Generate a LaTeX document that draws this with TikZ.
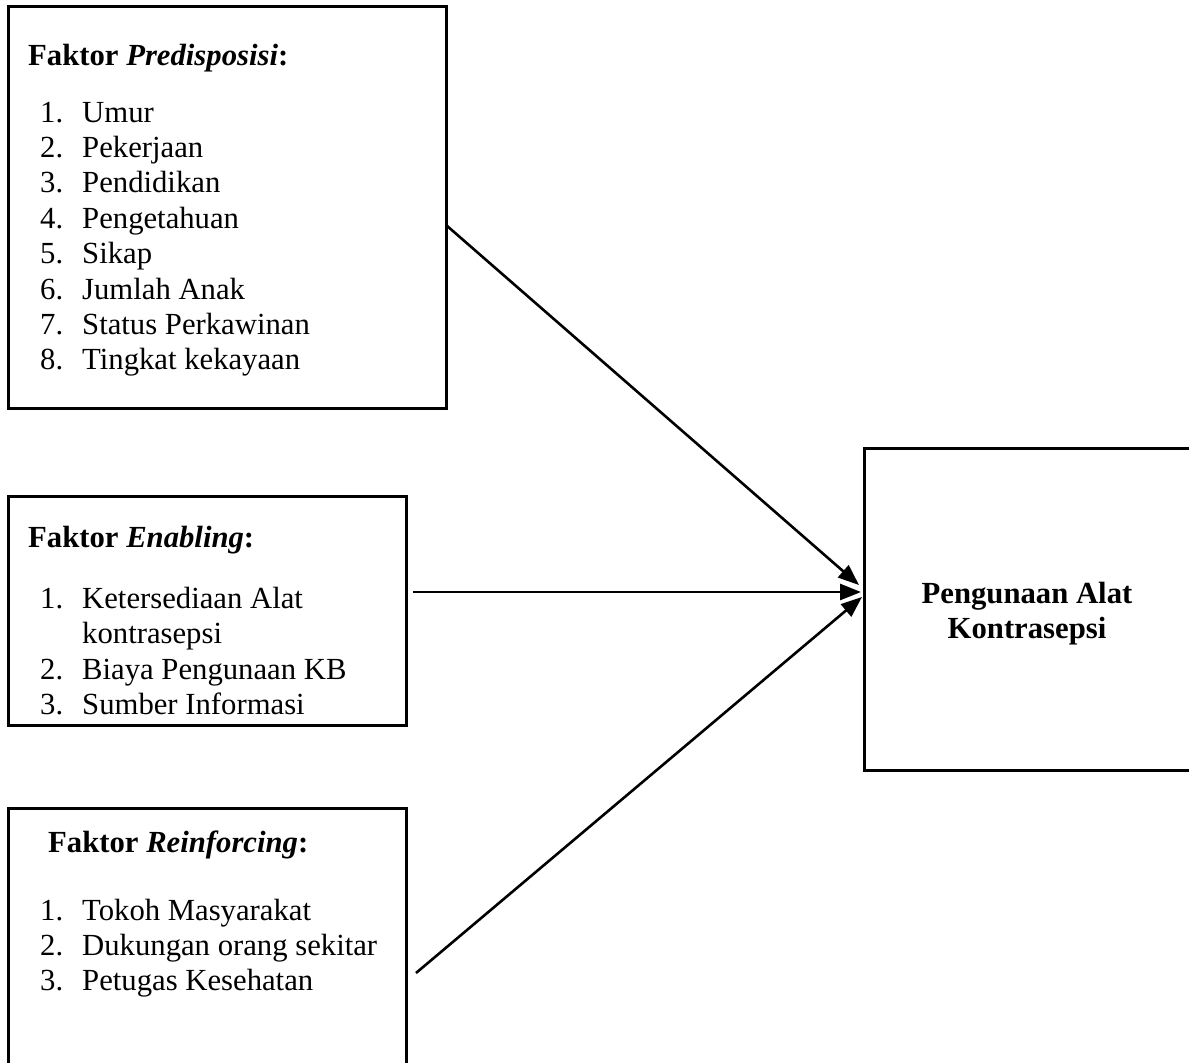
\documentclass[tikz,border=0pt]{standalone}
\usepackage{fontspec}
\setmainfont{Liberation Serif}
\usetikzlibrary{arrows.meta}
\begin{document}
\begin{tikzpicture}[x=1pt,y=-1pt,
  box/.style={draw,line width=3pt,inner sep=0pt,outer sep=0pt},
  txt/.style={anchor=base west,inner sep=0pt,font=\fontsize{30.7}{35}\selectfont},
  head/.style={anchor=base west,inner sep=0pt,font=\fontsize{30.7}{35}\selectfont\bfseries},
  ctr/.style={anchor=base,inner sep=0pt,font=\fontsize{30.7}{35}\selectfont\bfseries},
  conn/.style={line width=2.6pt,-{Triangle[length=21pt,width=16pt]}}]
\useasboundingbox (0,0) rectangle (1189,1063);
\clip (0,0) rectangle (1189,1063);
% boxes
\node[box,minimum width=438pt,minimum height=402pt] (b1) at (227,207) {};
\node[box,minimum width=398pt,minimum height=229pt] (b2) at (207,610.5) {};
\node[box,minimum width=398pt,minimum height=300pt] (b3) at (207,958) {};
\node[box,minimum width=360pt,minimum height=322pt] (b4) at (1044,609) {};
% box 1 text
\node[head] (h1) at (28,65) {Faktor \textit{Predisposisi}:};
\foreach \n/\t [count=\i from 0] in {1/Umur,2/Pekerjaan,3/Pendidikan,4/Pengetahuan,5/Sikap,6/Jumlah Anak,7/Status Perkawinan,8/Tingkat kekayaan}{
  \node[txt] (n1\n) at (40,122+35.4*\i) {\n.};
  \node[txt] (t1\n) at (82,122+35.4*\i) {\t};
}
% box 2 text
\node[head] (h2) at (28,547) {Faktor \textit{Enabling}:};
\node[txt] (n21) at (40,608) {1.};
\node[txt] (t21) at (82,608) {Ketersediaan Alat};
\node[txt] (t21b) at (82,643) {kontrasepsi};
\node[txt] (n22) at (40,679) {2.};
\node[txt] (t22) at (82,679) {Biaya Pengunaan KB};
\node[txt] (n23) at (40,714) {3.};
\node[txt] (t23) at (82,714) {Sumber Informasi};
% box 3 text
\node[head] (h3) at (48,852) {Faktor \textit{Reinforcing}:};
\node[txt] (n31) at (40,920) {1.};
\node[txt] (t31) at (82,920) {Tokoh Masyarakat};
\node[txt] (n32) at (40,955) {2.};
\node[txt] (t32) at (82,955) {Dukungan orang sekitar};
\node[txt] (n33) at (40,990) {3.};
\node[txt] (t33) at (82,990) {Petugas Kesehatan};
% box 4 text
\node[ctr] (c1) at (1027,603) {Pengunaan Alat};
\node[ctr] (c2) at (1027,638) {Kontrasepsi};
% connectors
\coordinate (s1) at (446,225);
\coordinate (s2) at (413,592);
\coordinate (s3) at (416,973);
\coordinate (e1) at (859,585);
\coordinate (e2) at (861,592);
\coordinate (e3) at (862,597);
\draw[conn] (s1) -- (e1);
\draw[conn] (s2) -- (e2);
\draw[conn] (s3) -- (e3);
\end{tikzpicture}
\end{document}
